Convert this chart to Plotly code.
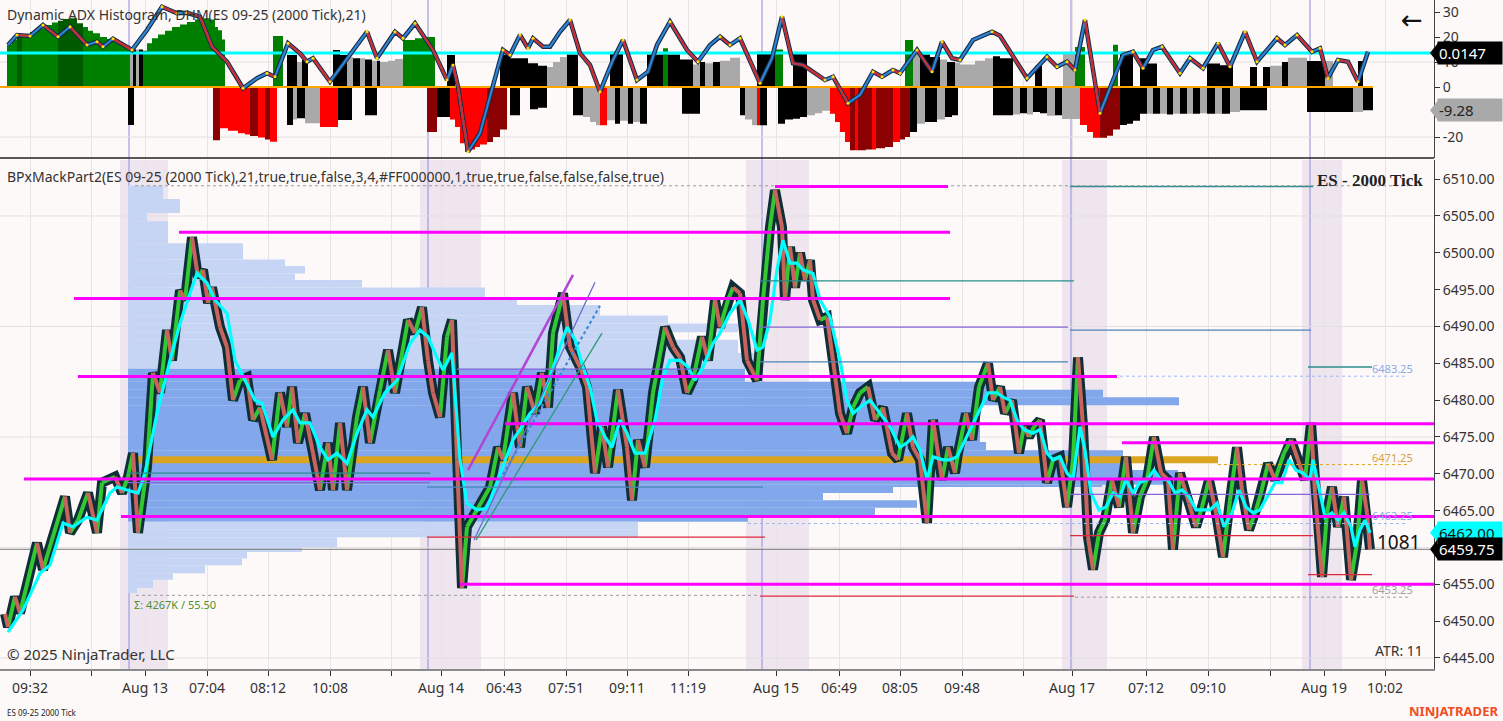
import plotly.graph_objects as go

# ---------------- axis ticks (bar index positions) ----------------
tick_pos = [30, 91, 145, 207, 268, 330, 391, 441, 504, 566, 627, 688, 776, 839, 900, 962, 1023, 1072, 1146, 1208, 1270, 1324, 1385]
tick_text = ["09:32", "", "Aug 13", "07:04", "08:12", "10:08", "", "Aug 14", "06:43", "07:51", "09:11", "11:19",
             "Aug 15", "06:49", "08:05", "09:48", "", "Aug 17", "07:12", "09:10", "", "Aug 19", "10:02"]
price_ticks = [6445, 6450, 6455, 6460, 6465, 6470, 6475, 6480, 6485, 6490, 6495, 6500, 6505, 6510]
price_tick_text = ["6445.00", "6450.00", "6455.00", "", "6465.00", "6470.00", "6475.00", "6480.00", "6485.00",
                   "6490.00", "6495.00", "6500.00", "6505.00", "6510.00"]
adx_ticks = [-20, -10, 0, 10, 20, 30]
adx_tick_text = ["-20", "", "0", "10", "20", "30"]

# session breaks and highlighted session ranges
session_breaks = [129, 428, 762, 1071, 1310]
session_shade_x0 = [120, 420, 746, 1062, 1302]
session_shade_x1 = [168, 481, 809, 1107, 1342]

# ---------------- price (close swing points) ----------------
price_x = [5, 8, 15, 20, 37, 43, 65, 70, 78, 88, 97, 102, 115, 122, 128, 133, 138, 147, 153, 160, 167, 172, 180, 185,
           192, 198, 203, 208, 212, 220, 227, 233, 240, 247, 253, 260, 272, 280, 287, 292, 298, 305, 313, 320, 328,
           333, 340, 347, 357, 363, 370, 380, 388, 395, 408, 415, 422, 428, 433, 440, 447, 452, 457, 462, 467, 477,
           490, 498, 503, 513, 520, 527, 535, 542, 548, 553, 563, 570, 580, 587, 595, 602, 608, 618, 627, 632, 638,
           645, 653, 665, 673, 680, 687, 693, 702, 708, 715, 720, 728, 733, 740, 747, 757, 763, 770, 775, 782, 785,
           790, 795, 800, 805, 810, 813, 820, 827, 833, 840, 847, 853, 860, 868, 875, 883, 892, 898, 907, 913, 920,
           927, 933, 942, 948, 955, 958, 966, 972, 979, 988, 993, 1000, 1005, 1012, 1019, 1024, 1029, 1034, 1040,
           1047, 1053, 1060, 1067, 1073, 1078, 1083, 1088, 1093, 1099, 1105, 1112, 1119, 1126, 1133, 1140, 1147,
           1154, 1161, 1168, 1173, 1180, 1189, 1196, 1202, 1209, 1216, 1223, 1230, 1237, 1242, 1249, 1256, 1261,
           1268, 1275, 1284, 1291, 1298, 1305, 1311, 1315, 1322, 1327, 1332, 1338, 1344, 1351, 1357, 1362, 1367, 1370]
price_y = [6451.0, 6449.2, 6453.3, 6451.1, 6460.6, 6457.0, 6466.9, 6462.0, 6463.7, 6467.4, 6462.0, 6468.8, 6469.6,
           6467.4, 6469.6, 6472.8, 6462.0, 6471.0, 6483.7, 6481.0, 6489.5, 6485.4, 6494.9, 6493.6, 6502.1, 6496.7,
           6497.7, 6493.2, 6495.3, 6489.9, 6487.2, 6480.0, 6482.7, 6483.1, 6477.3, 6479.0, 6471.9, 6481.0, 6476.4,
           6481.8, 6474.2, 6478.2, 6472.8, 6467.8, 6474.2, 6467.8, 6476.9, 6467.8, 6477.7, 6481.8, 6474.2, 6481.4,
           6486.8, 6481.0, 6490.9, 6489.1, 6492.6, 6485.4, 6481.0, 6477.7, 6488.6, 6490.9, 6471.9, 6454.5, 6462.8,
           6465.1, 6468.2, 6473.6, 6471.9, 6481.0, 6473.6, 6481.8, 6478.2, 6483.7, 6479.0, 6489.1, 6494.5, 6487.2,
           6484.5, 6481.8, 6470.1, 6476.4, 6470.9, 6481.4, 6473.6, 6466.4, 6474.6, 6470.9, 6481.0, 6489.9, 6487.2,
           6485.8, 6481.0, 6482.7, 6488.6, 6485.4, 6493.6, 6489.9, 6493.6, 6495.3, 6494.5, 6485.4, 6482.7, 6493.6,
           6503.5, 6508.5, 6503.5, 6493.6, 6500.8, 6495.3, 6500.0, 6496.3, 6499.0, 6493.6, 6490.9, 6491.3, 6485.4,
           6478.2, 6475.5, 6479.0, 6481.0, 6481.8, 6477.3, 6479.0, 6472.8, 6471.9, 6478.2, 6473.6, 6471.9, 6463.3,
           6477.3, 6469.2, 6473.6, 6470.1, 6472.8, 6478.2, 6474.6, 6481.8, 6485.0, 6480.0, 6481.8, 6478.2, 6480.0,
           6472.8, 6476.4, 6475.0, 6476.4, 6477.3, 6468.8, 6471.9, 6472.3, 6465.5, 6471.9, 6485.8, 6476.4, 6461.4,
           6457.0, 6462.0, 6463.7, 6469.2, 6465.5, 6472.3, 6462.0, 6466.9, 6469.2, 6475.0, 6470.1, 6469.2, 6459.7,
           6470.1, 6466.0, 6462.8, 6465.5, 6469.2, 6464.7, 6458.7, 6466.4, 6473.6, 6467.8, 6462.4, 6465.1, 6467.4,
           6471.4, 6469.2, 6472.8, 6474.6, 6471.9, 6469.2, 6476.9, 6467.4, 6456.0, 6464.7, 6468.2, 6462.8, 6466.9,
           6455.6, 6460.6, 6469.2, 6464.7, 6459.75]

# cyan moving average
ma_x = [8, 23, 40, 50, 63, 73, 87, 97, 110, 117, 127, 138, 145, 157, 170, 180, 190, 197, 207, 215, 227, 235, 245, 255,
        262, 273, 283, 293, 300, 310, 320, 328, 337, 347, 357, 367, 373, 385, 397, 410, 420, 428, 437, 443, 452, 460,
        467, 477, 487, 500, 513, 520, 530, 540, 550, 560, 567, 575, 583, 590, 597, 605, 612, 620, 627, 635, 645, 655,
        663, 670, 680, 688, 695, 703, 713, 720, 730, 740, 748, 757, 763, 770, 777, 783, 790, 797, 803, 813, 820, 830,
        840, 847, 853, 860, 870, 880, 890, 900, 907, 913, 920, 927, 933, 943, 950, 957, 967, 978, 988, 997, 1003,
        1010, 1017, 1024, 1033, 1040, 1047, 1053, 1060, 1067, 1073, 1080, 1085, 1091, 1099, 1106, 1113, 1120, 1126,
        1133, 1140, 1147, 1154, 1161, 1168, 1175, 1182, 1189, 1196, 1203, 1210, 1217, 1224, 1232, 1239, 1246, 1253,
        1260, 1267, 1275, 1282, 1289, 1296, 1303, 1310, 1313, 1320, 1325, 1332, 1338, 1344, 1351, 1355, 1360, 1365,
        1370]
ma_y = [6448.5, 6451.5, 6456.5, 6457.6, 6463.3, 6462.8, 6464.1, 6463.7, 6467.4, 6468.2, 6467.8, 6467.4, 6470.1,
        6478.2, 6485.4, 6490.4, 6494.5, 6497.2, 6495.9, 6493.6, 6491.8, 6485.4, 6482.7, 6480.0, 6479.6, 6475.0,
        6477.3, 6478.7, 6476.9, 6476.9, 6473.6, 6471.9, 6472.8, 6471.4, 6475.5, 6478.7, 6477.7, 6481.0, 6482.7,
        6487.7, 6489.5, 6488.6, 6485.8, 6484.1, 6486.4, 6471.9, 6466.0, 6465.1, 6465.3, 6470.1, 6474.6, 6476.0,
        6478.2, 6479.6, 6483.1, 6487.2, 6489.9, 6488.2, 6484.5, 6481.8, 6477.3, 6475.0, 6473.6, 6477.3, 6475.5,
        6472.8, 6472.8, 6477.3, 6483.1, 6485.4, 6485.4, 6484.5, 6482.7, 6484.5, 6487.7, 6489.1, 6491.8, 6493.6,
        6490.9, 6486.8, 6487.2, 6490.9, 6497.7, 6501.7, 6498.6, 6498.6, 6497.7, 6497.2, 6493.6, 6491.3, 6485.4,
        6480.0, 6478.2, 6479.0, 6480.0, 6478.2, 6476.4, 6473.6, 6474.2, 6475.0, 6473.2, 6469.2, 6472.3, 6471.9,
        6471.9, 6472.3, 6475.0, 6478.2, 6481.0, 6481.0, 6480.4, 6480.0, 6477.3, 6476.0, 6475.5, 6476.0, 6472.8,
        6471.9, 6472.3, 6470.1, 6469.2, 6476.4, 6473.2, 6467.4, 6465.1, 6465.5, 6467.4, 6466.9, 6469.2, 6467.4,
        6468.8, 6469.2, 6470.5, 6469.2, 6469.2, 6467.4, 6467.8, 6466.9, 6465.1, 6465.1, 6465.1, 6466.0, 6462.8,
        6464.7, 6467.8, 6465.5, 6464.7, 6465.1, 6466.9, 6468.8, 6468.8, 6471.9, 6470.5, 6470.1, 6469.2, 6471.9,
        6467.4, 6464.1, 6464.7, 6463.7, 6464.7, 6462.8, 6460.1, 6462.4, 6463.7, 6462.0]

last_price = 6459.75
last_ma = 6462.00

# ---------------- volume profile (session Aug 13) ----------------
profile_start = 128
prof_lo = [6507.3, 6505.4, 6504.3, 6501.3, 6499.1, 6498.2, 6497.2, 6496.3, 6495.3, 6494.0, 6492.9, 6491.5, 6490.4,
           6489.2, 6488.2, 6486.4, 6484.25, 6482.5, 6481.4, 6480.4, 6479.3, 6474.3, 6473.2, 6470.5, 6468.5, 6468.2,
           6467.4, 6466.4, 6465.4, 6464.4, 6463.5, 6462.4, 6461.4, 6460.0, 6459.4, 6458.5, 6457.6, 6456.5, 6455.6,
           6454.5, 6453.8]
prof_hi = [6509.1, 6507.3, 6505.4, 6504.3, 6501.3, 6499.1, 6498.2, 6497.2, 6496.3, 6495.3, 6494.0, 6492.9, 6491.5,
           6490.4, 6489.2, 6488.2, 6486.4, 6484.25, 6482.5, 6481.4, 6480.4, 6479.3, 6474.3, 6473.2, 6470.5, 6468.5,
           6468.2, 6467.4, 6466.4, 6465.4, 6464.4, 6463.5, 6462.4, 6461.4, 6460.0, 6459.4, 6458.5, 6457.6, 6456.5,
           6455.6, 6454.5]
prof_vol = [35, 52, 19, 40, 115, 157, 177, 167, 234, 357, 389, 472, 540, 610, 540, 610, 632, 617, 862, 975, 1051, 852,
            858, 995, 1050, 974, 765, 695, 789, 747, 620, 510, 510, 209, 174, 119, 114, 77, 45, 25, 9]
va_low, va_high = 6463.5, 6484.25
poc_price = 6471.9
poc_x0, poc_x1 = 128, 1218

# ---------------- drawn levels ----------------
mag_level = [6509.0, 6502.8, 6493.8, 6483.2, 6476.8, 6474.2, 6469.3, 6464.2, 6455.0]
mag_x0 = [775, 179, 74, 78, 505, 1122, 24, 121, 460]
mag_x1 = [948, 950, 950, 1117, 1434, 1434, 1434, 1434, 1434]

thin_level = [6470.1, 6468.8, 6468.2, 6461.4, 6484.2, 6496.2, 6489.9, 6485.2, 6453.4, 6509.0, 6489.5, 6461.6,
              6467.2, 6484.5, 6456.3]
thin_x0 = [128, 128, 427, 427, 457, 760, 760, 760, 760, 1070, 1070, 1070, 1070, 1308, 1308]
thin_x1 = [430, 430, 763, 765, 700, 1074, 1068, 1068, 1074, 1313, 1311, 1313, 1370, 1372, 1372]
thin_kind = ["teal", "purple", "steel", "red", "purple", "teal", "purple", "steel", "red", "teal", "steel", "red",
             "purple", "teal", "red"]

dot_level = [6509.1, 6453.5, 6453.25, 6483.25, 6463.25, 6471.25]
dot_x0 = [135, 136, 1075, 700, 748, 1218]
dot_x1 = [1408, 760, 1408, 1408, 1408, 1408]
dot_kind = ["gray", "gray", "gray", "blue", "blue", "gold"]

# trend channel lines (x0, y0, x1, y1)
trend_x0 = [468, 474, 500, 476]
trend_y0 = [6470.5, 6461.0, 6469.2, 6461.0]
trend_x1 = [573, 595, 600, 602]
trend_y1 = [6497.0, 6496.0, 6492.8, 6489.1]

# ---------------- ADX histogram (upper & lower) ----------------
up_x = [7, 12, 17, 22, 30, 38, 45, 52, 58, 63, 70, 77, 83, 88, 93, 100, 107, 113, 120, 125, 130, 133, 136, 139, 143,
        147, 152, 158, 165, 172, 180, 187, 195, 203, 210, 215, 218, 222, 225, 273, 283, 287, 297, 302, 308, 333, 340,
        347, 353, 360, 365, 372, 377, 380, 388, 395, 403, 415, 425, 435, 447, 455, 500, 510, 518, 528, 538, 547, 553,
        560, 567, 578, 610, 623, 647, 663, 668, 680, 693, 700, 705, 713, 720, 730, 740, 757, 767, 775, 783, 793, 807,
        905, 913, 920, 930, 940, 947, 955, 960, 975, 985, 993, 1000, 1013, 1035, 1042, 1063, 1075, 1085, 1113, 1118,
        1120, 1133, 1140, 1148, 1157, 1207, 1220, 1233, 1250, 1257, 1263, 1270, 1277, 1282, 1288, 1293, 1307, 1325,
        1333, 1358, 1363, 1373]
up_v = [16.9, 19.0, 20.4, 21.0, 22.0, 23.5, 24.8, 25.8, 26.5, 27.2, 27.5, 25.5, 24.0, 22.5, 21.5, 20.0, 19.2, 18.5,
        17.5, 16.5, 15.0, 15.0, 15.0, 15.0, 14.5, 17.5, 19.5, 21.0, 22.5, 24.0, 25.0, 26.0, 27.0, 27.5, 27.0, 24.0,
        22.7, 19.0, 0, 20.4, 0, 12.8, 10.0, 10.8, 0, 14.8, 12.8, 12.0, 11.5, 11.5, 11.0, 10.5, 10.5, 10.0, 10.5, 11.2,
        18.8, 19.5, 20.0, 0, 12.8, 0, 13.0, 11.5, 11.5, 9.5, 8.5, 8.0, 10.0, 12.0, 13.0, 0, 14.1, 0, 13.0, 15.5, 13.0,
        11.0, 9.0, 10.0, 9.5, 10.0, 10.5, 11.7, 0, 14.1, 14.1, 15.0, 0, 13.5, 0, 18.8, 14.5, 13.0, 12.0, 11.0, 10.0,
        9.7, 9.0, 10.5, 11.5, 12.3, 11.5, 0, 8.5, 0, 13.3, 16.0, 0, 16.9, 0, 14.1, 0, 11.5, 9.4, 0, 9.4, 8.7, 0, 8.0,
        0, 8.0, 8.5, 8.5, 10.0, 11.7, 11.7, 10.4, 10.4, 0, 10.4, 0]
up_c = "GGDGGGGGDDDDGGGGGGGGAKAKGGGGGGGGGGGGGGGGGKAKKKKAKAKAKAAAGGGGKKKKKKKAAAKKKKKGKKAKAKAAAKKGGKKGAKKAKAAAAKKKKKAGGGGKKKKKKKKKKKAAKAAKAKKKK"
dn_x = [128, 134, 213, 220, 228, 238, 245, 250, 258, 265, 270, 277, 287, 293, 297, 305, 320, 338, 352, 365, 377, 427,
        437, 450, 455, 460, 465, 470, 475, 480, 487, 493, 500, 507, 510, 520, 530, 538, 547, 573, 583, 590, 596, 600,
        607, 615, 620, 628, 633, 640, 647, 682, 700, 740, 745, 752, 757, 760, 767, 778, 785, 793, 800, 807, 815, 822,
        830, 835, 840, 845, 850, 855, 858, 866, 872, 876, 885, 893, 900, 905, 910, 917, 925, 930, 937, 945, 952, 958,
        993, 1013, 1020, 1027, 1033, 1040, 1047, 1055, 1062, 1080, 1087, 1093, 1100, 1107, 1113, 1120, 1127, 1133,
        1140, 1147, 1153, 1160, 1167, 1173, 1180, 1187, 1193, 1200, 1207, 1215, 1222, 1230, 1240, 1260, 1267, 1307,
        1322, 1330, 1353, 1363, 1373]
dn_v = [-15.2, 0, -21.3, -16.5, -17.5, -18.5, -19.0, -19.6, -20.2, -21.0, -21.9, 0, -15.2, -13.0, -12.5, -14.5, -16.0,
        -13.2, 0, -11.3, 0, -18.0, -12.0, -13.0, -16.0, -22.5, -26.0, -25.0, -24.0, -23.0, -22.0, -20.0, -17.0, 0,
        -11.3, 0, -8.9, -8.3, 0, -11.3, -12.0, -14.0, -15.3, -15.3, -13.3, -14.7, -13.5, -14.7, -14.0, -14.7, 0,
        -10.7, 0, -11.3, -13.0, -15.3, -15.3, -15.3, 0, -14.7, -13.0, -12.7, -12.0, -11.3, -10.5, -9.5, -10.7, -14.0,
        -18.0, -22.0, -25.3, -25.3, -25.3, -25.0, -25.0, -24.5, -24.0, -22.0, -21.0, -20.0, -18.0, -14.7, -14.0,
        -14.0, -13.0, -12.0, -11.3, 0, -11.3, -11.0, -10.5, -11.0, -10.0, -10.5, -11.5, -11.3, -12.8, -15.2, -18.0,
        -20.3, -20.3, -19.5, -17.0, -15.2, -14.7, -13.5, -10.7, -10.7, -10.7, -10.7, -11.0, -10.7, -10.7, -10.7,
        -10.7, -10.5, -10.7, -10.7, -10.7, -10.0, -9.3, -9.3, 0, -10.0, -10.0, -10.0, -10.0, -9.3, 0]
dn_c = "KKERRRREREREKAKARKKKKEKRRRRRRREEEEKKKKKKAAARAKAKAKKKKKAARKKKKKKAAARRRRERE" \
       "EREEREEKAKKAKKKKAKAKKAKARRREEEKKKKAKAKAKAKAKAKAKKAKKKAKAA"

# ADX smoothed line
adx_x = [8, 17, 30, 43, 58, 70, 87, 97, 103, 113, 132, 147, 162, 177, 187, 200, 212, 227, 243, 257, 267, 275, 288,
         300, 307, 313, 330, 350, 367, 377, 395, 403, 415, 433, 447, 453, 458, 468, 480, 500, 503, 510, 520, 528, 533,
         543, 550, 560, 570, 580, 590, 600, 613, 623, 637, 648, 657, 670, 687, 698, 710, 720, 730, 740, 760, 772, 782,
         793, 803, 825, 833, 848, 860, 873, 882, 893, 900, 917, 932, 942, 952, 960, 973, 992, 1000, 1027, 1047, 1057,
         1067, 1075, 1085, 1100, 1123, 1133, 1143, 1153, 1162, 1180, 1190, 1203, 1218, 1230, 1245, 1257, 1277, 1285,
         1297, 1312, 1320, 1328, 1338, 1348, 1358, 1368]
adx_y = [16.8, 20.8, 20.4, 24.8, 20.1, 24.1, 16.8, 18.1, 16.1, 19.3, 14.8, 22.8, 32.1, 29.5, 29.7, 28.1, 16.1, 10.1,
         -0.5, 3.5, 5.5, 4.1, 17.5, 13.5, 10.1, 11.5, 2.1, 12.8, 22.1, 11.5, 22.1, 19.5, 25.5, 14.8, 2.8, 8.8, 0.1,
         -25.9, -18.5, 10.8, 14.8, 12.8, 20.8, 15.5, 19.5, 16.1, 16.1, 22.1, 26.8, 13.5, 8.8, -1.9, 10.8, 18.8, 2.8,
         6.1, 16.8, 26.1, 14.8, 10.1, 16.8, 20.1, 16.8, 19.5, 1.5, 11.5, 28.1, 9.5, 8.8, 2.8, 4.1, -6.5, -3.2, 6.1,
         4.1, 6.8, 5.5, 14.8, 6.1, 18.1, 11.5, 10.8, 18.8, 22.1, 20.5, 3.5, 12.1, 8.1, 10.1, 6.8, 26.8, -10.5, 12.8,
         14.1, 7.5, 14.8, 16.1, 5.5, 11.5, 7.5, 17.5, 8.1, 22.1, 10.1, 19.5, 16.8, 20.8, 14.1, 15.5, 3.5, 10.8, 10.1,
         2.1, 14.1]
adx_signal = 13.6
adx_signal_text = "0.0147"
adx_last_hist = -9.28

# ======================= build figure =======================
PW, PH = 1434.0, 669.0
def px(x):
    return x / PW
def py(y):
    return (PH - y) / PH

hist_colors = {"G": "#008000", "D": "#005a00", "K": "#000000", "A": "#a9a9a9", "R": "#ff0000", "E": "#8b0000"}

fig = go.Figure()

def hist_trace(xs, vs, cs):
    cx, w, v, col = [], [], [], []
    for i in range(len(xs) - 1):
        if vs[i] == 0:
            continue
        cx.append((xs[i] + xs[i + 1]) / 2.0)
        w.append(xs[i + 1] - xs[i])
        v.append(vs[i])
        col.append(hist_colors[cs[i]])
    return go.Bar(x=cx, y=v, width=w, marker=dict(color=col, line=dict(width=0)), xaxis="x", yaxis="y",
                  hoverinfo="skip")

fig.add_trace(hist_trace(up_x, up_v, up_c))
fig.add_trace(hist_trace(dn_x, dn_v, dn_c))

# zero line & signal line
fig.add_trace(go.Scatter(x=[0, 1373], y=[0, 0], mode="lines", line=dict(color="#ffa500", width=2),
                         xaxis="x", yaxis="y", hoverinfo="skip"))
fig.add_trace(go.Scatter(x=[0, 1434], y=[adx_signal, adx_signal], mode="lines", line=dict(color="#00ffff", width=3),
                         xaxis="x", yaxis="y", hoverinfo="skip"))

# ADX line: dark outline, blue, red on falling segments
fig.add_trace(go.Scatter(x=adx_x, y=adx_y, mode="lines", line=dict(color="#1b2a44", width=4.5),
                         xaxis="x", yaxis="y", hoverinfo="skip"))
fig.add_trace(go.Scatter(x=adx_x, y=adx_y, mode="lines", line=dict(color="#2b86d6", width=2.2),
                         xaxis="x", yaxis="y", hoverinfo="skip"))
rx, ry = [], []
for i in range(len(adx_x) - 1):
    if adx_y[i + 1] < adx_y[i]:
        rx += [adx_x[i], adx_x[i + 1], None]
        ry += [adx_y[i], adx_y[i + 1], None]
fig.add_trace(go.Scatter(x=rx, y=ry, mode="lines", line=dict(color="#d42a2a", width=2.2),
                         xaxis="x", yaxis="y", hoverinfo="skip"))
# turning points (yellow dots)
tx, ty = [], []
for i in range(1, len(adx_x) - 1):
    if (adx_y[i] - adx_y[i - 1]) * (adx_y[i + 1] - adx_y[i]) < 0:
        tx.append(adx_x[i]); ty.append(adx_y[i])
fig.add_trace(go.Scatter(x=tx, y=ty, mode="markers", marker=dict(color="#ffe000", size=3),
                         xaxis="x", yaxis="y", hoverinfo="skip"))

# ---- volume profile ----
pc, pw, pv, pcol = [], [], [], []
for lo, hi, v in zip(prof_lo, prof_hi, prof_vol):
    pc.append((lo + hi) / 2.0)
    pw.append(hi - lo)
    pv.append(v)
    pcol.append("#82a7eb" if (lo >= va_low - 1e-9 and hi <= va_high + 1e-9) else "#c6d5f4")
fig.add_trace(go.Bar(y=pc, x=pv, base=profile_start, width=pw, orientation="h",
                     marker=dict(color=pcol, line=dict(width=0)), xaxis="x2", yaxis="y2", hoverinfo="skip"))

# POC
fig.add_trace(go.Scatter(x=[poc_x0, poc_x1], y=[poc_price, poc_price], mode="lines",
                         line=dict(color="#daa520", width=7), xaxis="x2", yaxis="y2", hoverinfo="skip"))

# last price line
fig.add_trace(go.Scatter(x=[0, 1434], y=[last_price, last_price], mode="lines",
                         line=dict(color="#7a7a7a", width=1), xaxis="x2", yaxis="y2", hoverinfo="skip"))

# price: dark candle mass, then coloured direction line
fig.add_trace(go.Scatter(x=price_x, y=price_y, mode="lines", line=dict(color="#0f2e38", width=10),
                         xaxis="x2", yaxis="y2", hoverinfo="skip"))
gx, gy, rdx, rdy = [], [], [], []
for i in range(len(price_x) - 1):
    if price_y[i + 1] >= price_y[i]:
        gx += [price_x[i], price_x[i + 1], None]; gy += [price_y[i], price_y[i + 1], None]
    else:
        rdx += [price_x[i], price_x[i + 1], None]; rdy += [price_y[i], price_y[i + 1], None]
fig.add_trace(go.Scatter(x=gx, y=gy, mode="lines", line=dict(color="#32c832", width=4),
                         xaxis="x2", yaxis="y2", hoverinfo="skip"))
fig.add_trace(go.Scatter(x=rdx, y=rdy, mode="lines", line=dict(color="#c8645c", width=4),
                         xaxis="x2", yaxis="y2", hoverinfo="skip"))
# moving average
fig.add_trace(go.Scatter(x=ma_x, y=ma_y, mode="lines", line=dict(color="#00ffff", width=3.2),
                         xaxis="x2", yaxis="y2", hoverinfo="skip"))

# ---- level lines ----
def seg_trace(x0s, x1s, ys, color, width, dash="solid"):
    xs, yy = [], []
    for a, b, y in zip(x0s, x1s, ys):
        xs += [a, b, None]; yy += [y, y, None]
    return go.Scatter(x=xs, y=yy, mode="lines", line=dict(color=color, width=width, dash=dash),
                      xaxis="x2", yaxis="y2", hoverinfo="skip")

thin_colors = {"teal": "#2a8c8c", "purple": "#8466d8", "steel": "#4a86b8", "red": "#e0283c"}
for kind, col in thin_colors.items():
    idx = [i for i, k in enumerate(thin_kind) if k == kind]
    fig.add_trace(seg_trace([thin_x0[i] for i in idx], [thin_x1[i] for i in idx], [thin_level[i] for i in idx], col, 1.3))
dot_colors = {"gray": "#9a9a9a", "blue": "#9bb8ee", "gold": "#daa520"}
for kind, col in dot_colors.items():
    idx = [i for i, k in enumerate(dot_kind) if k == kind]
    fig.add_trace(seg_trace([dot_x0[i] for i in idx], [dot_x1[i] for i in idx], [dot_level[i] for i in idx], col, 1,
                            dash="dot"))
fig.add_trace(seg_trace(mag_x0, mag_x1, mag_level, "#ff00ff", 3))

trend_styles = [("#b444d4", 2.5, "solid"), ("#6c6cc8", 1.3, "solid"), ("#3a8ad8", 2.2, "dot"), ("#2e9a7a", 1.3, "solid")]
for i, (col, w, d) in enumerate(trend_styles):
    fig.add_trace(go.Scatter(x=[trend_x0[i], trend_x1[i]], y=[trend_y0[i], trend_y1[i]], mode="lines",
                             line=dict(color=col, width=w, dash=d), xaxis="x2", yaxis="y2", hoverinfo="skip"))

# ---- shapes ----
shapes = []
for a, b in zip(session_shade_x0, session_shade_x1):
    shapes.append(dict(type="rect", xref="x2", yref="y2 domain", x0=a, x1=b, y0=0, y1=1,
                       fillcolor="#efe5ef", line=dict(width=0), layer="below"))
for s in session_breaks:
    shapes.append(dict(type="line", xref="x", yref="paper", x0=s, x1=s, y0=0, y1=1,
                       line=dict(color="#8c8cdc", width=1), layer="below"))
for g in [6445, 6460, 6475, 6490, 6505]:
    shapes.append(dict(type="line", xref="x2 domain", yref="y2", x0=0, x1=1, y0=g, y1=g,
                       line=dict(color="#e4e0e0", width=1), layer="below"))
for g in [-20, 10]:
    shapes.append(dict(type="line", xref="x domain", yref="y", x0=0, x1=1, y0=g, y1=g,
                       line=dict(color="#e4e0e0", width=1), layer="below"))
shapes.append(dict(type="line", xref="paper", yref="paper", x0=0, x1=1, y0=py(158), y1=py(158),
                   line=dict(color="#222222", width=1.5)))

# arrow tips of the right-side value markers
def tip(yref, yv, half, color):
    shapes.append(dict(type="path", xref="paper", yref=yref,
                       path=f"M {px(1430)} {yv} L {px(1438)} {yv + half} L {px(1438)} {yv - half} Z",
                       fillcolor=color, line=dict(width=0)))
tip("y", adx_signal, 4.0, "#000000")
tip("y", adx_last_hist, 4.0, "#a9a9a9")
tip("y2", last_ma, 1.35, "#00ffff")
tip("y2", last_price, 1.45, "#000000")

# ---- annotations ----
F = "Noto Sans, Open Sans, sans-serif"
ann = []
def note(x, y, text, size=14, color="#333333", xanchor="left", family=F, **kw):
    ann.append(dict(x=px(x), y=py(y), xref="paper", yref="paper", text=text, showarrow=False,
                    xanchor=xanchor, yanchor="middle", font=dict(size=size, color=color, family=family), **kw))

note(5, 15, "Dynamic ADX Histogram, DHM(ES 09-25 (2000 Tick),21)", 14)
note(1412, 20, "←", 26, "#111111", xanchor="center", family="DejaVu Sans, sans-serif")
note(5, 176, "BPxMackPart2(ES 09-25 (2000 Tick),21,true,true,false,3,4,#FF000000,1,true,true,false,false,false,true)", 14)
note(1425, 180, "<b>ES - 2000 Tick</b>", 17, "#222222", xanchor="right", family="Liberation Serif, serif")
note(5, 654, "© 2025 NinjaTrader, LLC", 15, "#333333")
note(1425, 650, "ATR: 11", 14, "#333333", xanchor="right")
note(132, 604, "Σ: 4267K / 55.50", 11, "#4f8f2f")
note(1375, 542, "1081", 19, "#111111")
note(1370, 368, "6483.25", 11, "#8aaae6")
note(1370, 457, "6471.25", 11, "#d4a04a")
note(1370, 515, "6463.25", 11, "#8aaae6")
note(1370, 589, "6453.25", 11, "#a0a0a0")
note(5, 712, "ES 09-25 2000 Tick", 8, "#222222")
note(1500, 711, "<b>NINJATRADER</b>", 13, "#f04e23", xanchor="right")

# right side value boxes
def box(yref, yv, text, bg, fg):
    ann.append(dict(x=px(1437), y=yv, xref="paper", yref=yref, text=text, showarrow=False, xanchor="left",
                    yanchor="middle", bgcolor=bg, font=dict(size=15, color=fg, family=F), borderpad=1,
                    width=62, align="left"))
box("y", adx_signal, adx_signal_text, "#000000", "#ffffff")
box("y", adx_last_hist, f"{adx_last_hist:.2f}", "#a9a9a9", "#222222")
box("y2", last_ma, f"{last_ma:.2f}", "#00ffff", "#111111")
box("y2", last_price, f"{last_price:.2f}", "#000000", "#ffffff")

fig.update_layout(
    width=1503, height=721,
    margin=dict(l=0, r=69, t=0, b=52),
    paper_bgcolor="#fdf9f9", plot_bgcolor="#fdf9f9",
    showlegend=False, barmode="overlay", hovermode=False,
    shapes=shapes, annotations=ann,
    font=dict(family=F, size=14, color="#333333"),
    xaxis=dict(domain=[0, 1], range=[0, 1434], anchor="y", tickvals=tick_pos, ticktext=[""] * len(tick_pos),
               showgrid=True, gridcolor="#e8e4e4", zeroline=False, showticklabels=False, ticks=""),
    xaxis2=dict(domain=[0, 1], range=[0, 1434], anchor="y2", matches="x", tickvals=tick_pos, ticktext=tick_text,
                showgrid=True, gridcolor="#e8e4e4", zeroline=False, ticks="outside", ticklen=5, tickcolor="#333333",
                showline=True, linecolor="#8a8a8a", linewidth=2, tickfont=dict(size=14, color="#333333")),
    yaxis=dict(domain=[py(157.5), 1], range=[-28.2, 34.8], side="right", anchor="x", tickvals=adx_ticks,
               ticktext=adx_tick_text, showgrid=False, zeroline=False, ticks="outside", ticklen=5, tickcolor="#333333",
               showline=True, linecolor="#444444", linewidth=1, tickfont=dict(size=14, color="#333333")),
    yaxis2=dict(domain=[0, py(160)], range=[6443.5, 6512.6], side="right", anchor="x2", tickvals=price_ticks,
                ticktext=price_tick_text, showgrid=False, zeroline=False, ticks="outside", ticklen=5,
                tickcolor="#333333", showline=True, linecolor="#444444", linewidth=1,
                tickfont=dict(size=14, color="#333333")),
)

fig.write_html("out.html", config={"displayModeBar": False},
               post_script="document.body.style.margin='0';document.body.style.overflow='hidden';")
